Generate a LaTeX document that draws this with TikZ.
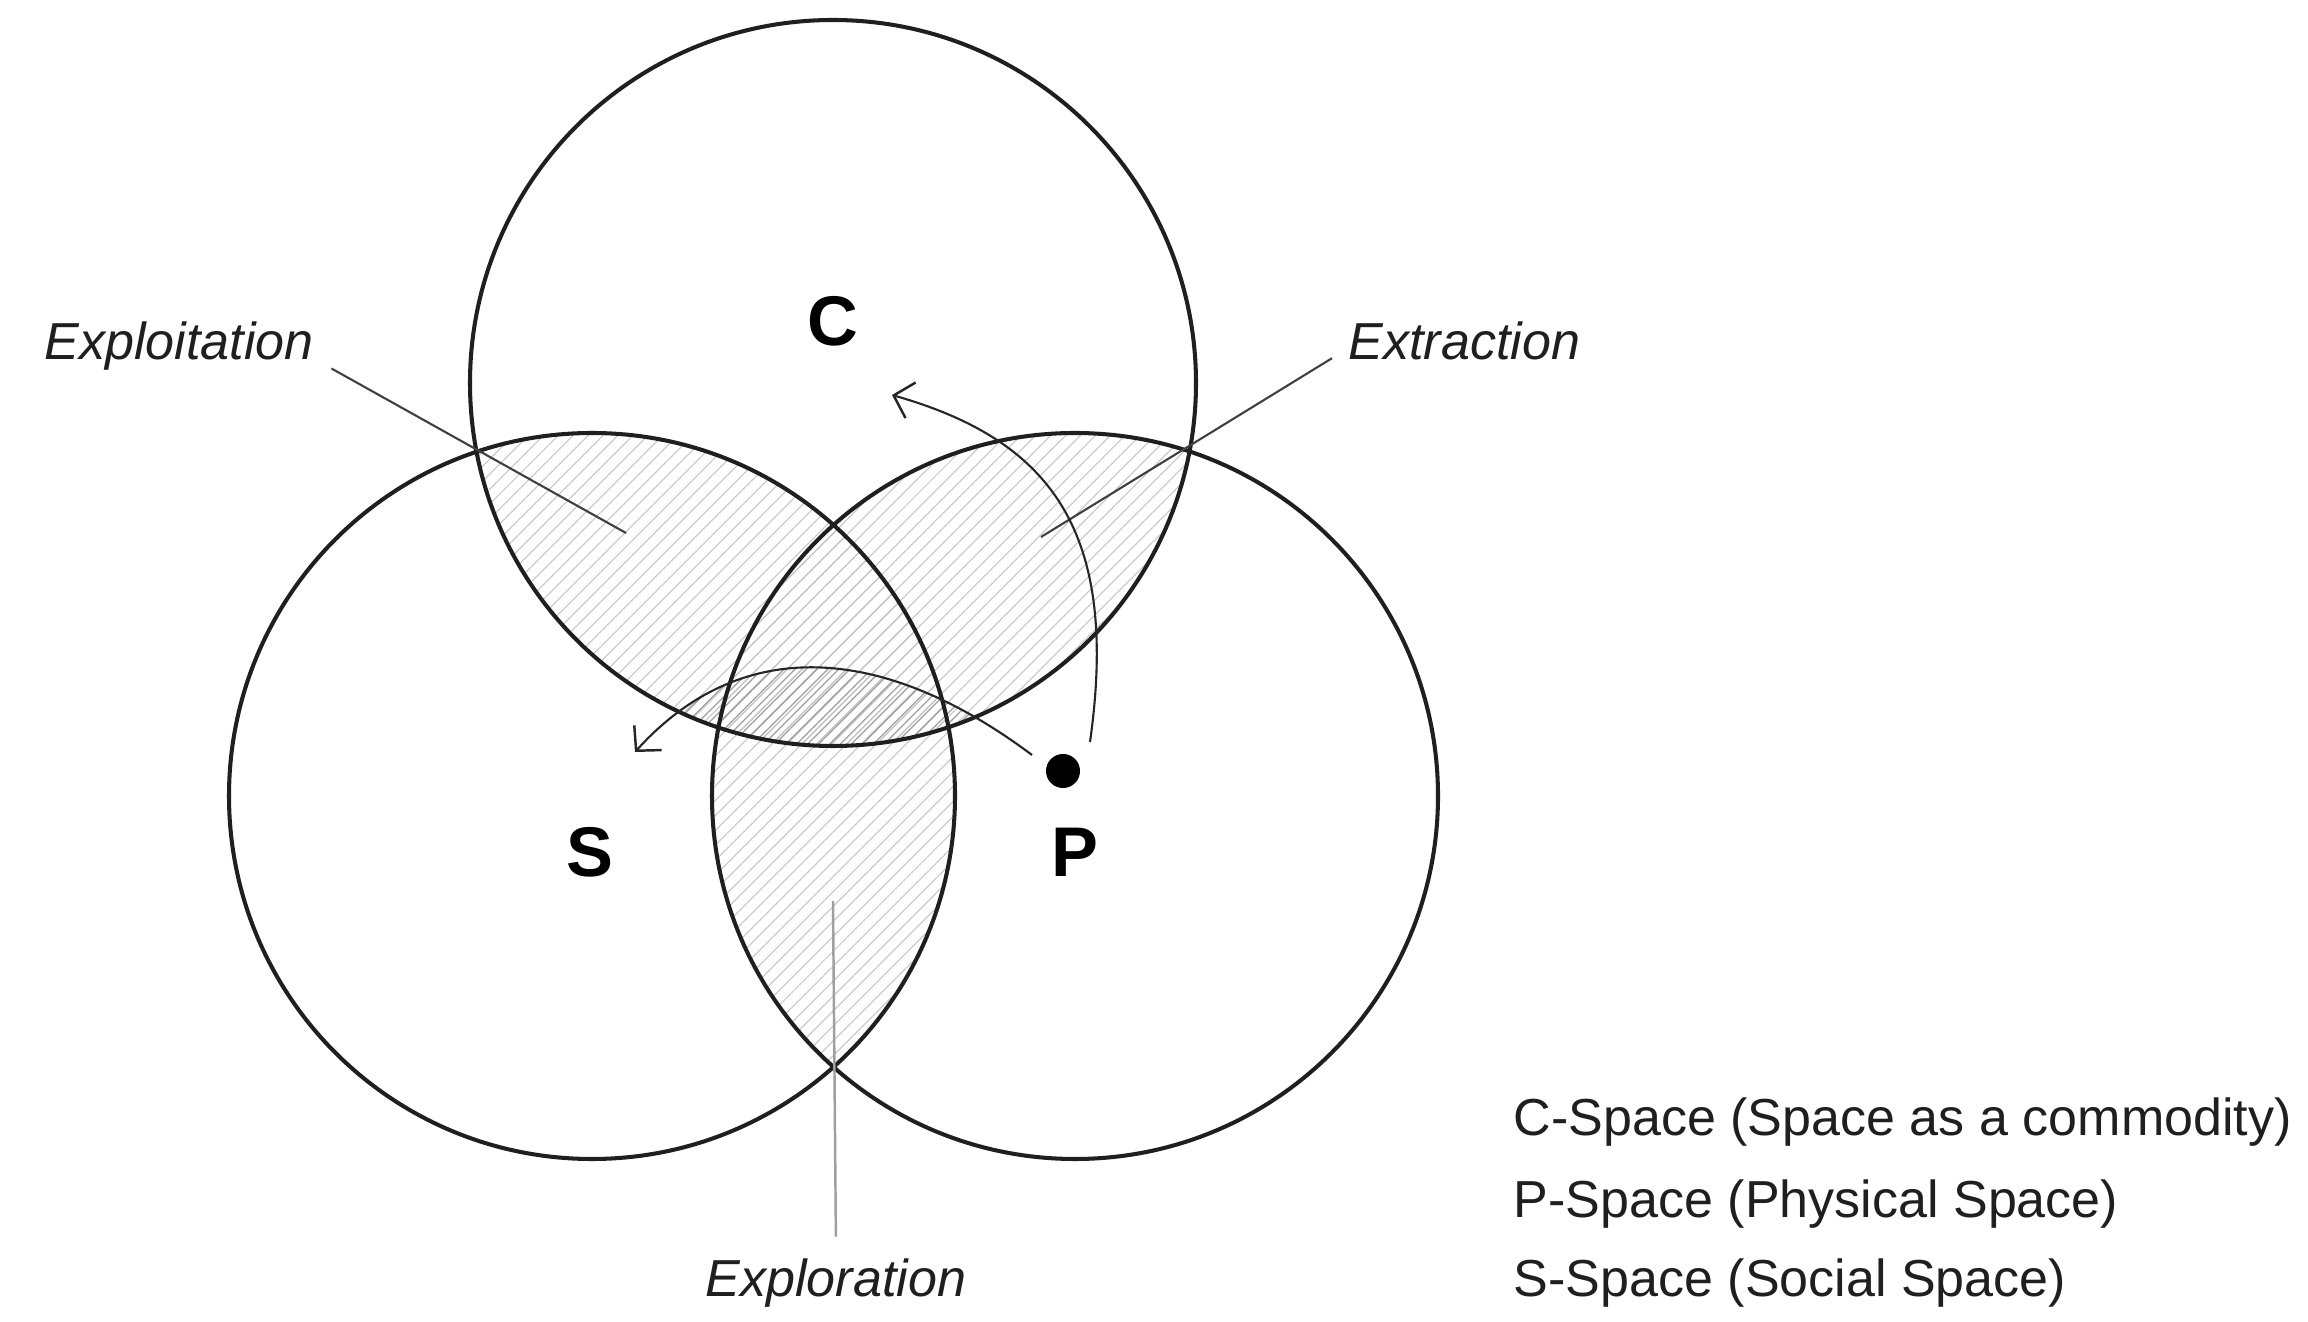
\documentclass[tikz,border=0pt]{standalone}
\usepackage{fontspec}
\setmainfont{Liberation Sans}
\usetikzlibrary{arrows.meta,patterns.meta}
\begin{document}
\begin{tikzpicture}[x=0.01cm,y=-0.01cm,
  ring/.style={line width=1.15pt, draw=black!88},
  hatch/.style={pattern={Lines[angle=45,distance=3pt,line width=0.3pt]},pattern color=gray!45},
  darkhatch/.style={pattern={Lines[angle=45,distance=2.2pt,line width=0.35pt]},pattern color=gray!75},
  leader/.style={line width=0.6pt, draw=black!75},
  greyleader/.style={line width=0.7pt, draw=gray!75},
  flow/.style={line width=0.6pt, draw=black!85, -{Straight Barb[length=5pt,width=10.5pt,line width=0.7pt]}},
  big/.style={font=\fontsize{20}{24}\selectfont\bfseries, inner sep=0pt},
  lab/.style={font=\fontsize{14.8}{18}\selectfont\itshape, inner sep=0pt, text=black!88},
  leg/.style={font=\fontsize{14.8}{18}\selectfont, inner sep=0pt, text=black!88}]
\useasboundingbox (0,0) rectangle (2308,1322);
\fill[white] (0,0) rectangle (2308,1322);

% centres
\coordinate (cC) at (833,383);
\coordinate (cS) at (592,796);
\coordinate (cP) at (1075,796);

% hatching of the overlaps
\begin{scope}
  \clip (cC) circle[radius=363];
  \fill[hatch] (cS) circle[radius=363];
  \fill[hatch] (cP) circle[radius=363];
\end{scope}
\begin{scope}
  \clip (cS) circle[radius=363];
  \fill[hatch] (cP) circle[radius=363];
\end{scope}
\begin{scope}
  \clip (cC) circle[radius=363];
  \clip (1032,755) .. controls (896,653) and (749,626) .. (635,752) -- (635,900) -- (1032,900) -- cycle;
  \fill[darkhatch] (600,600) rectangle (1100,900);
\end{scope}

% circles
\draw[ring] (cC) circle[radius=363];
\draw[ring] (cS) circle[radius=363];
\draw[ring] (cP) circle[radius=363];

% letters
\node[big, anchor=base] (lC) at (833,346) {C};
\node[big, anchor=base] (lS) at (590,877) {S};
\node[big, anchor=base] (lP) at (1075,877) {P};

% dot
\node[circle, fill=black, inner sep=0pt, minimum size=0.34cm] (dot) at (1063,771) {};

% region labels
\node[lab, anchor=base west] (exploit) at (44,360) {Exploitation};
\node[lab, anchor=base west] (extract) at (1348,360) {Extraction};
\node[lab, anchor=base west] (explore) at (705,1297) {Exploration};

\coordinate (exploitEnd) at (626,533);
\coordinate (extractEnd) at (1041,537);
\coordinate (exploreEnd) at (833,901);

\draw[leader] ([shift={(17,-3)}]exploit.south east) -- (exploitEnd);
\draw[leader] ([shift={(-16,-3)}]extract.south west) -- (extractEnd);
\draw[greyleader] ([shift={(0,-22)}]explore.north) -- (exploreEnd);

% flows
\coordinate (toC) at (892,395);
\coordinate (toS) at (635,752);
\draw[flow] ([shift={(27,-29)}]dot.center) .. controls (1120,530) and (1050,440) .. (toC);
\draw[flow] ([shift={(-31,-16)}]dot.center) .. controls (896,653) and (749,626) .. (toS);

% legend
\node[leg, anchor=base west] (legC) at (1513,1136) {C-Space (Space as a commodity)};
\node[leg, anchor=base west] (legP) at (1513,1217) {P-Space (Physical Space)};
\node[leg, anchor=base west] (legS) at (1513,1296) {S-Space (Social Space)};
\end{tikzpicture}
\end{document}
